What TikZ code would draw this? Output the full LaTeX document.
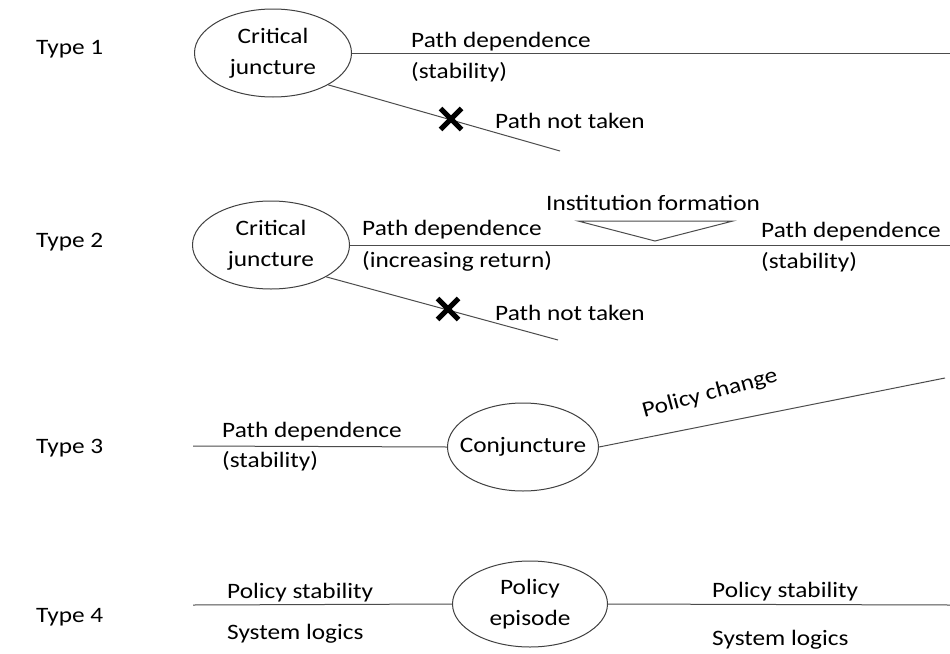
\documentclass[tikz,border=0pt]{standalone}
\usepackage{fontspec}
\setmainfont{Carlito}[FakeStretch=1.15]
\usetikzlibrary{shapes.geometric,shapes.misc}
\begin{document}
\begin{tikzpicture}[x=1pt,y=-1pt,
  every node/.style={font=\fontsize{22}{31}\selectfont, text=black, inner sep=0pt},
  oval/.style={ellipse, draw=black!75, line width=1pt, minimum width=157pt, minimum height=88pt, align=center},
  conn/.style={draw=black!70, line width=1pt},
  lbl/.style={anchor=base west},
  xmark/.style={cross out, draw=black, line width=5pt, minimum size=16pt}
]
\useasboundingbox[fill=white] (0,0) rectangle (950,653);

% Type 1
\node[lbl] (t1) at (36,54) {Type 1};
\node[oval] (c1) at (273,53) {\makebox[0pt]{Critical}\\\makebox[0pt]{juncture}};
\coordinate (e1a) at (950,53);
\coordinate (e1b) at (560,151);
\draw[conn] (c1.east) -- (e1a);
\draw[conn] (c1.-30) -- (e1b);
\node[xmark] (x1) at (451,119) {};
\node[lbl] (p1a) at (411,47) {Path dependence};
\node[lbl] (p1b) at (411,78) {(stability)};
\node[lbl] (n1) at (495,128) {Path not taken};

% Type 2
\node[lbl] (t2) at (36,247) {Type 2};
\node[oval] (c2) at (271,245) {\makebox[0pt]{Critical}\\\makebox[0pt]{juncture}};
\coordinate (e2a) at (950,245);
\coordinate (e2b) at (558,340);
\draw[conn] (c2.east) -- (e2a);
\draw[conn] (c2.-30) -- (e2b);
\node[xmark] (x2) at (448,309) {};
\node[lbl] (p2a) at (362,235) {Path dependence};
\node[lbl] (p2b) at (362,267) {(increasing return)};
\node[lbl] (if) at (546,210) {Institution formation};
\draw[conn] (578,221) -- (655,241) -- (733,221) -- cycle;
\node[lbl] (p2c) at (761,237) {Path dependence};
\node[lbl] (p2d) at (761,268) {(stability)};
\node[lbl] (n2) at (495,320) {Path not taken};

% Type 3
\node[lbl] (t3) at (36,453) {Type 3};
\coordinate (s3) at (193,446);
\node[oval, minimum width=151pt] (c3) at (523,447) {\makebox[0pt]{Conjuncture}};
\coordinate (e3) at (945,378);
\draw[conn] (s3) -- (c3.west);
\draw[conn] (c3.east) -- (e3);
\node[rotate=15] (pc) at (710,394) {Policy change};
\node[lbl] (p3a) at (222,437) {Path dependence};
\node[lbl] (p3b) at (222,467) {(stability)};

% Type 4
\node[lbl] (t4) at (36,622) {Type 4};
\coordinate (s4) at (193,605);
\node[oval, minimum width=155pt, minimum height=86pt] (c4) at (530,604) {\makebox[0pt]{Policy}\\\makebox[0pt]{episode}};
\coordinate (e4) at (950,605);
\draw[conn] (s4) -- (c4.west);
\draw[conn] (c4.east) -- (e4);
\node[lbl] (p4a) at (227,598) {Policy stability};
\node[lbl] (p4b) at (227,639) {System logics};
\node[lbl] (p4c) at (712,597) {Policy stability};
\node[lbl] (p4d) at (712,645) {System logics};
\end{tikzpicture}
\end{document}
